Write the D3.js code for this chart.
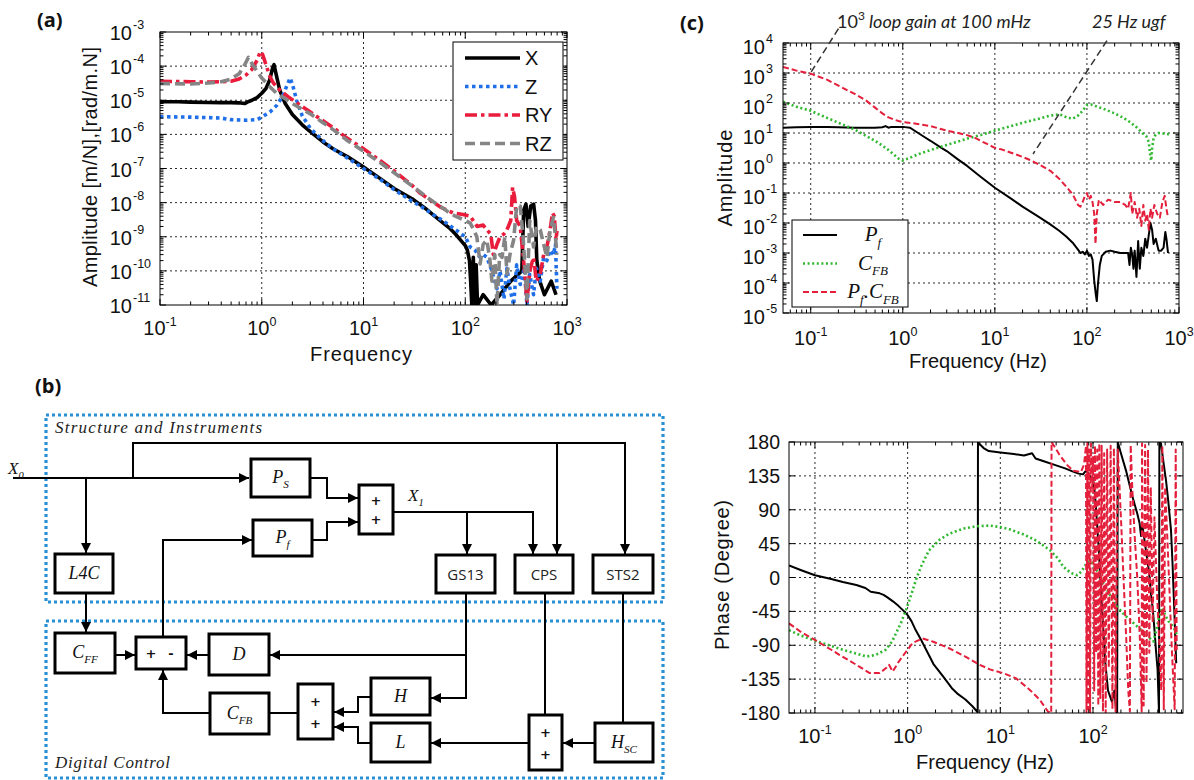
<!DOCTYPE html>
<html><head><meta charset="utf-8">
<script src="https://cdn.jsdelivr.net/npm/d3@7"></script>
<style>body{margin:0;background:#fff}svg{display:block;font-family:"Liberation Sans",Arial,sans-serif}</style>
</head><body><svg width="1194" height="780"></svg>
<script>
// ---------------- DATA ----------------
// Panel (a): amplitude [m/N],[rad/m.N] vs frequency
const aNames = ["X","Z","RY","RZ"];
const aX = [[0.1,9e-6],[0.15,9e-6],[0.2,8.8e-6],[0.3,8.6e-6],[0.4,8.5e-6],[0.5,8.5e-6],[0.6,8.4e-6],[0.68,8e-6],[0.72,8.8e-6],[0.8,1e-5],[0.9,1.2e-5],[1,1.6e-5],[1.1,2.2e-5],[1.2,4e-5],[1.28,9e-5],[1.32,1.1e-4],[1.38,6e-5],[1.5,2e-5],[1.7,8e-6],[2,3.8e-6],[2.5,1.9e-6],[3,1.2e-6],[4,6e-7],[5,3.8e-7],[7,2.2e-7],[10,1.1e-7],[15,4.8e-8],[20,2.6e-8],[30,1.3e-8],[40,7e-9],[50,4e-9],[60,2.6e-9],[70,1.8e-9],[80,1.2e-9],[90,8e-10],[100,5.5e-10],[105,4e-10],[110,2e-10],[113,5e-11],[116,1e-11],[120,2.5e-10],[124,1e-11],[128,1.5e-10],[132,1e-11],[150,2e-11],[180,1e-11],[220,2e-11],[280,5e-11],[360,1e-10],[375,6e-9],[395,9e-9],[415,2e-9],[440,8e-9],[470,9e-9],[490,3e-9],[505,2e-10],[540,5e-11],[600,2e-11],[700,5e-11],[780,2e-11]];
const aZ = [[0.1,3.3e-6],[0.2,3.2e-6],[0.3,3.1e-6],[0.4,3e-6],[0.5,2.7e-6],[0.7,2.6e-6],[0.9,2.7e-6],[1,3.2e-6],[1.2,4.5e-6],[1.4,7e-6],[1.6,1.3e-5],[1.75,2.5e-5],[1.9,4.5e-5],[2,3e-5],[2.2,1e-5],[2.5,3.5e-6],[3,1.5e-6],[4,6.5e-7],[5,3.8e-7],[7,2e-7],[10,1e-7],[15,4.5e-8],[20,2.4e-8],[30,1.1e-8],[36,8e-9],[50,4.2e-9],[60,3e-9],[76,1.8e-9],[100,1e-9],[112,5e-10],[125,4e-10],[140,2.5e-10],[150,3e-10],[163,2.5e-10],[183,1e-10],[205,3e-11],[220,1e-10],[240,1.5e-11],[257,1.2e-10],[275,3e-11],[299,1e-11],[320,1.5e-10],[347,4e-11],[380,1.2e-10],[404,1e-11],[430,8e-11],[469,2e-11],[500,1.2e-10],[546,5e-11],[590,2.5e-10],[635,2e-10],[680,4e-10],[737,3e-10],[770,6e-10],[796,3e-11]];
const aRY = [[0.1,3.6e-5],[0.2,3.5e-5],[0.3,3.4e-5],[0.4,3.5e-5],[0.5,3.6e-5],[0.6,4.2e-5],[0.7,5.5e-5],[0.8,8e-5],[0.9,1.5e-4],[0.97,2.7e-4],[1.02,2.2e-4],[1.1,1.1e-4],[1.2,5e-5],[1.3,3.2e-5],[1.5,2e-5],[1.8,1.3e-5],[2.2,8.5e-6],[3,4.5e-6],[4,2.5e-6],[5,1.6e-6],[7,7.5e-7],[10,3.8e-7],[15,1.6e-7],[20,8.5e-8],[30,3.2e-8],[36,1.9e-8],[45,1.2e-8],[57,7.4e-9],[76,5e-9],[95,4.5e-9],[112,4e-9],[131,2e-9],[150,2.2e-9],[163,1.6e-9],[178,1.2e-9],[189,3e-10],[205,6e-10],[220,1e-9],[240,1.2e-9],[257,1.6e-9],[280,3e-9],[292,2.8e-8],[305,1.5e-8],[320,3e-9],[347,2e-9],[370,3e-10],[390,5e-11],[404,1.3e-11],[430,1e-10],[469,2.5e-10],[500,5e-11],[546,8e-11],[590,3e-10],[635,5e-10],[680,1.5e-9],[720,5e-9],[750,4e-9],[780,8e-10],[796,1.5e-9]];
const aRZ = [[0.1,3.1e-5],[0.2,3e-5],[0.3,3.2e-5],[0.4,3.5e-5],[0.5,4.2e-5],[0.6,6e-5],[0.68,1.1e-4],[0.74,1.8e-4],[0.8,1.2e-4],[0.9,7e-5],[1,4.5e-5],[1.2,2.5e-5],[1.4,1.6e-5],[1.7,1.1e-5],[2,8e-6],[3,4e-6],[4,2.2e-6],[5,1.4e-6],[7,6.5e-7],[10,3.2e-7],[15,1.4e-7],[20,7.5e-8],[30,3.1e-8],[40,1.6e-8],[50,1e-8],[60,7e-9],[70,5e-9],[80,4e-9],[100,3e-9],[112,2.5e-9],[121,1.6e-9],[130,1e-9],[140,1.6e-10],[150,6e-10],[163,8e-10],[175,2e-10],[183,5e-11],[195,3e-10],[205,1e-11],[218,3e-10],[230,2.5e-10],[245,1e-9],[257,8e-11],[275,3e-10],[299,8e-10],[320,8e-9],[347,8e-9],[370,1e-9],[404,1.5e-11],[430,3e-9],[469,5e-10],[500,2e-9],[546,1.6e-9],[590,6e-10],[635,2.5e-10],[680,1.5e-9],[737,3.7e-9],[770,1e-9],[796,3e-10]];
const aXTicks = [0.1,1,10,100,1000];
const aYTicks = [1e-11,1e-10,1e-9,1e-8,1e-7,1e-6,1e-5,1e-4,1e-3];

// Panel (c) amplitude
const cNames = ["Pf","CFB","PfCFB"];
const cPf = [[0.05,15],[0.07,15.5],[0.1,16],[0.15,16],[0.2,15.5],[0.3,15],[0.4,15],[0.5,15],[0.6,15.5],[0.65,17],[0.7,15],[0.75,16],[0.9,16],[1,16],[1.2,15],[1.4,11],[1.7,7.5],[2,5.5],[2.5,3.5],[3,2.5],[4,1.3],[5,0.8],[7,0.35],[10,0.15],[15,0.065],[20,0.035],[30,0.016],[40,0.009],[50,0.0055],[60,0.0035],[70,0.0022],[80,0.0013],[85,0.001],[90,0.0011],[95,0.0009],[100,0.0012],[105,0.0008],[110,0.0009],[115,0.0006],[120,0.00012],[125,0.00004],[128,0.000025],[132,0.0001],[138,0.0004],[145,0.0008],[160,0.0011],[180,0.0012],[200,0.0011],[230,0.001],[260,0.001],[280,0.001],[290,0.0004],[300,0.0015],[310,0.0009],[320,0.0003],[330,0.0012],[345,0.00016],[360,0.0025],[375,0.0003],[390,0.0015],[410,0.0008],[430,0.003],[450,0.0015],[470,0.004],[490,0.01],[510,0.006],[530,0.002],[560,0.003],[600,0.0012],[640,0.0012],[680,0.0015],[710,0.005],[730,0.003],[760,0.001]];
const cCFB = [[0.05,110],[0.07,75],[0.1,55],[0.15,32],[0.2,22],[0.3,13],[0.4,8],[0.5,5.5],[0.6,3.8],[0.7,2.7],[0.8,1.9],[0.9,1.4],[1,1.2],[1.2,1.5],[1.5,2],[2,2.7],[3,4],[4,5.2],[5,6.5],[7,8.5],[10,12],[15,17],[20,22],[30,30],[40,38],[50,42],[55,38],[60,33],[70,30],[80,38],[90,55],[100,85],[110,90],[130,75],[150,65],[200,45],[250,32],[300,22],[350,15],[400,10],[440,8],[470,5],[490,1.5],[500,1.2],[510,3],[530,7],[560,9],[600,10],[700,9.5],[800,9]];
const cPfCFB = [[0.05,1600],[0.07,1200],[0.1,950],[0.15,600],[0.2,380],[0.3,200],[0.4,120],[0.5,70],[0.6,45],[0.7,33],[0.8,28],[0.9,25],[1,23],[1.3,21],[1.6,19],[2,17],[2.5,14],[3,12],[4,10],[5,8.5],[6,7],[7,5.5],[8,4.5],[10,3.2],[12,2.8],[15,2.2],[20,1.6],[25,1.2],[30,0.9],[40,0.55],[50,0.3],[60,0.16],[70,0.09],[75,0.06],[80,0.04],[85,0.035],[90,0.05],[95,0.08],[100,0.1],[105,0.06],[110,0.08],[115,0.05],[120,0.02],[124,0.002],[128,0.02],[135,0.06],[150,0.04],[170,0.06],[200,0.05],[230,0.05],[260,0.04],[280,0.03],[300,0.1],[310,0.02],[330,0.05],[350,0.015],[370,0.03],[390,0.008],[410,0.04],[430,0.012],[450,0.02],[470,0.006],[490,0.03],[510,0.015],[540,0.04],[580,0.02],[620,0.015],[660,0.05],[700,0.08],[730,0.03],[760,0.015]];
const cXTicks = [0.1,1,10,100,1000];
const cYTicks = [1e-5,1e-4,1e-3,1e-2,1e-1,1,10,100,1000,1e4];
const cNotes = [{from:[0.2,3e4],to:[0.095,800]},{from:[165,1.2e4],to:[26,2]}];

// Panel (c) phase (degree)
const pPf = [[0.0525,16],[0.07,10],[0.1,3],[0.15,-2],[0.2,-6],[0.28,-10],[0.35,-14],[0.4,-19],[0.5,-21],[0.55,-23],[0.6,-26],[0.7,-32],[0.8,-38],[0.9,-44],[1,-50],[1.1,-58],[1.2,-68],[1.4,-83],[1.6,-97],[1.9,-115],[2.4,-131],[3,-147],[3.5,-155],[4.2,-162],[5,-171],[5.7,-179],[5.74,179],[6,177],[6.6,172],[7.5,168],[10,166],[14,164],[18,162],[22,165],[24,158],[30,154],[40,149],[50,145],[60,141],[70,138],[78,137],[84,142],[90,138],[95,130],[100,132],[105,110],[108,90],[115,40],[125,-40],[135,-110],[145,-150],[160,-165],[170,-150],[178,-178],[182,-180],[185,180],[200,165],[227,142],[267,107],[300,85],[318,72],[330,55],[340,70],[359,50],[389,19],[400,10],[424,-25],[440,-40],[460,-69],[480,-100],[497,-122],[515,-180],[520,180],[541,178],[580,150],[613,129],[650,100],[694,63],[720,20],[755,-47],[790,-114]];
const pCFB = [[0.0525,-70],[0.07,-77],[0.1,-84],[0.15,-91],[0.2,-96],[0.28,-101],[0.36,-105],[0.45,-103],[0.58,-96],[0.68,-85],[0.75,-74],[0.85,-60],[0.96,-43],[1.1,-22],[1.23,-3],[1.4,15],[1.7,36],[2.2,50],[2.8,58],[4,65],[5.5,68],[7.7,69],[10,67],[12.6,64],[18,57],[24.5,49],[34.6,36],[42,25],[48,14],[58,6],[67.6,3],[75,8],[86,20],[93,22],[100,18],[115,5],[130,-8],[150,-22],[180,-38],[220,-50],[260,-58],[300,-65],[350,-72],[400,-80],[450,-85],[480,-70],[520,-50],[560,-40],[600,-50],[650,-58],[700,-62],[750,-68],[800,-75]];
const pPfCFB = [[0.0525,-61],[0.07,-72],[0.1,-83],[0.15,-96],[0.185,-103],[0.28,-116],[0.39,-127],[0.5,-127],[0.59,-120],[0.63,-116],[0.69,-125],[0.8,-112],[0.88,-105],[1,-96],[1.13,-87],[1.45,-81],[1.86,-85],[2.8,-94],[4.2,-105],[6,-116],[7.7,-122],[10.7,-127],[14.8,-134],[20.7,-149],[26.5,-162],[32.6,-178],[35.4,-180],[35.7,180],[43,164],[52,150],[61,142],[74,140],[80,150],[84,175],[85,-180],[87,180],[89,-175],[91,170],[93,-180],[95,178],[98,120],[100,160],[103,-150],[105,175],[108,-100],[111,170],[114,-170],[117,178],[120,-160],[124,175],[128,-178],[132,165],[137,-180],[142,170],[148,-120],[155,175],[162,-175],[168,172],[175,-178],[185,170],[195,110],[205,50],[215,-10],[228,-80],[240,-150],[250,-178],[255,176],[265,120],[280,60],[300,0],[320,-80],[335,-178],[338,178],[352,-170],[365,176],[378,-140],[392,170],[405,-100],[420,120],[440,-60],[460,80],[490,-20],[520,-90],[545,-150],[560,175],[580,-175],[600,120],[630,60],[670,-20],[700,-80],[730,-130],[760,-175],[780,170],[800,-100]];
const pXTicks = [0.1,1,10,100];
const pYTicks = [-180,-135,-90,-45,0,45,90,135,180];

// ---------------- DRAWING ----------------
const svg = d3.select("svg");
const GRID = "#2a2a2a";
const SERIF = "'Liberation Serif','DejaVu Serif',serif";

function minors(lo, hi){
  const out=[];
  for(let e=Math.floor(Math.log10(lo)); e<=Math.ceil(Math.log10(hi)); e++)
    for(let k=2;k<=9;k++){const v=k*Math.pow(10,e); if(v>lo*1.0001 && v<hi*0.9999) out.push(v);}
  return out;
}

function back(p){
  const [L,R]=p.xs.range(), [B,T]=p.ys.range();
  const g=svg.append("g").attr("stroke",GRID).attr("stroke-width",1).attr("stroke-dasharray","2,3");
  g.selectAll(null).data(p.xT.filter(v=>p.xs(v)>L+2&&p.xs(v)<R-2)).join("line")
   .attr("x1",d=>p.xs(d)).attr("x2",d=>p.xs(d)).attr("y1",T).attr("y2",B);
  g.selectAll(null).data(p.yT.filter(v=>p.ys(v)>T+2&&p.ys(v)<B-2)).join("line")
   .attr("y1",d=>p.ys(d)).attr("y2",d=>p.ys(d)).attr("x1",L).attr("x2",R);
  svg.append("clipPath").attr("id",p.id).append("rect").attr("x",L).attr("y",T).attr("width",R-L).attr("height",B-T);
  return svg.append("g").attr("clip-path",`url(#${p.id})`);
}

function front(p){
  const [L,R]=p.xs.range(), [B,T]=p.ys.range();
  const g=svg.append("g").attr("stroke","#000").attr("stroke-width",1);
  const xt=p.xT.map(v=>({v,l:6})).concat((p.xm||[]).map(v=>({v,l:3.5})));
  g.selectAll(null).data(xt).join("line").attr("x1",d=>p.xs(d.v)).attr("x2",d=>p.xs(d.v)).attr("y1",B).attr("y2",d=>B-d.l);
  g.selectAll(null).data(xt).join("line").attr("x1",d=>p.xs(d.v)).attr("x2",d=>p.xs(d.v)).attr("y1",T).attr("y2",d=>T+d.l);
  const yt=p.yT.map(v=>({v,l:6})).concat((p.ym||[]).map(v=>({v,l:3.5})));
  g.selectAll(null).data(yt).join("line").attr("y1",d=>p.ys(d.v)).attr("y2",d=>p.ys(d.v)).attr("x1",L).attr("x2",d=>L+d.l);
  g.selectAll(null).data(yt).join("line").attr("y1",d=>p.ys(d.v)).attr("y2",d=>p.ys(d.v)).attr("x1",R).attr("x2",d=>R-d.l);
  g.append("rect").attr("x",L).attr("y",T).attr("width",R-L).attr("height",B-T).attr("fill","none");
}

function xPowLabels(p, base){
  p.xT.forEach(v=>{
    const e=Math.round(Math.log10(v));
    const t=svg.append("text").attr("x",p.xs(v)).attr("y",base).attr("text-anchor","middle").attr("font-size",20).attr("fill","#111");
    t.append("tspan").text("10");
    t.append("tspan").attr("dy",-9).attr("font-size",12.5).text(e);
  });
}
function yPowLabels(p, xr, d1, d2){
  p.yT.forEach(v=>{
    const e=Math.round(Math.log10(v)), y=p.ys(v);
    svg.append("text").attr("x",xr).attr("y",y+d1).attr("text-anchor","end").attr("font-size",20).attr("fill","#111").text("10");
    svg.append("text").attr("x",xr+1).attr("y",y+d2).attr("font-size",12.5).attr("fill","#111").text(e);
  });
}

const line=(xs,ys)=>d3.line().x(d=>xs(d[0])).y(d=>ys(d[1]));

// ---- Panel (a)
const pa={id:"ca", xs:d3.scaleLog().domain([0.1,1000]).range([160,567]), ys:d3.scaleLog().domain([1e-11,1e-3]).range([305,32]), xT:aXTicks, yT:aYTicks};
pa.xm=minors(0.1,1000); pa.ym=minors(1e-11,1e-3);
const aStyles={X:{c:"#000",d:null},Z:{c:"#1f6fe8",d:"3.5,3.5"},RY:{c:"#ea1c3c",d:"12,4,3.5,4"},RZ:{c:"#858585",d:"10,5"}};
const aSeries={X:aX,Z:aZ,RY:aRY,RZ:aRZ};
const ga=back(pa);
aNames.forEach(n=>{
  ga.append("path").attr("d",line(pa.xs,pa.ys)(aSeries[n])).attr("fill","none").attr("stroke",aStyles[n].c)
    .attr("stroke-width",3.6).attr("stroke-dasharray",aStyles[n].d).attr("stroke-linejoin","round");
});
front(pa);
xPowLabels(pa,335);
yPowLabels(pa,132,8,-3);
svg.append("text").attr("x",361).attr("y",361).attr("text-anchor","middle").attr("font-size",20).attr("textLength",102).attr("fill","#111").text("Frequency");
svg.append("text").attr("transform","translate(97,167) rotate(-90)").attr("text-anchor","middle").attr("font-size",20).attr("textLength",240).attr("fill","#111").text("Amplitude [m/N],[rad/m.N]");
// legend (a)
const lg=svg.append("g");
lg.append("rect").attr("x",453).attr("y",42).attr("width",110).attr("height",118).attr("fill","#fff").attr("stroke","#000");
aNames.forEach((n,i)=>{
  const y=58+i*28.5;
  lg.append("line").attr("x1",465).attr("x2",520).attr("y1",y).attr("y2",y).attr("stroke",aStyles[n].c).attr("stroke-width",3.6).attr("stroke-dasharray",aStyles[n].d);
  lg.append("text").attr("x",525).attr("y",y+7).attr("font-size",20).attr("fill","#111").text(n);
});

// ---- Panel (c) amplitude
const pc={id:"cc", xs:d3.scaleLog().domain([0.05,1000]).range([783,1179]), ys:d3.scaleLog().domain([1e-5,1e4]).range([313,43]), xT:cXTicks, yT:cYTicks};
pc.xm=minors(0.05,1000); pc.ym=minors(1e-5,1e4);
const cStyles={Pf:{c:"#000",d:null,w:2},CFB:{c:"#2fb82f",d:"2,2.6",w:2.6},PfCFB:{c:"#e41f3b",d:"6,3",w:2}};
const cSeries={Pf:cPf,CFB:cCFB,PfCFB:cPfCFB};
const gc=back(pc);
cNames.forEach(n=>{
  gc.append("path").attr("d",line(pc.xs,pc.ys)(cSeries[n])).attr("fill","none").attr("stroke",cStyles[n].c)
    .attr("stroke-width",cStyles[n].w).attr("stroke-dasharray",cStyles[n].d).attr("stroke-linejoin","round");
});
front(pc);
xPowLabels(pc,345);
yPowLabels(pc,765,11,0);
svg.append("text").attr("x",978).attr("y",368).attr("text-anchor","middle").attr("font-size",20).attr("fill","#111").text("Frequency (Hz)");
svg.append("text").attr("transform","translate(732,178) rotate(-90)").attr("text-anchor","middle").attr("font-size",20).attr("textLength",97).attr("fill","#111").text("Amplitude");
cNotes.forEach(a=>{
  svg.append("line").attr("x1",pc.xs(a.from[0])).attr("y1",pc.ys(a.from[1])).attr("x2",pc.xs(a.to[0])).attr("y2",pc.ys(a.to[1]))
    .attr("stroke","#333").attr("stroke-width",1.5).attr("stroke-dasharray","7,4");
});
const n1=svg.append("text").attr("x",837).attr("y",28).attr("font-family","Lato, 'Open Sans', sans-serif").attr("font-size",18).attr("fill","#222");
n1.append("tspan").text("10"); n1.append("tspan").attr("dy",-8).attr("font-size",12).text("3");
n1.append("tspan").attr("dy",8).attr("font-style","italic").text(" loop gain at 100 mHz");
svg.append("text").attr("x",1092).attr("y",28).attr("font-family","Lato, 'Open Sans', sans-serif").attr("font-style","italic").attr("font-size",18).attr("fill","#222").text("25 Hz ugf");

// legend (c)
function mathText(sel,x,y,parts,size,anchor){
  const t=sel.append("text").attr("x",x).attr("y",y).attr("text-anchor",anchor||"start")
    .attr("font-family",SERIF).attr("font-style","italic").attr("font-size",size).attr("fill","#111");
  let sub=false;
  parts.forEach(([s,k])=>{
    const ts=t.append("tspan").text(s);
    if(k==="s"&&!sub){ts.attr("dy",size*0.28).attr("font-size",size*0.62); sub=true;}
    else if(k==="s"){ts.attr("font-size",size*0.62);}
    else if(sub){ts.attr("dy",-size*0.28); sub=false;}
  });
  return t;
}
const lc=svg.append("g");
lc.append("rect").attr("x",792).attr("y",220).attr("width",116).attr("height",87).attr("fill","#fff").attr("stroke","#000");
const cLeg=[["Pf",[["P","n"],["f","s"]]],["CFB",[["C","n"],["FB","s"]]],["PfCFB",[["P","n"],["f","s"],[".","n"],["C","n"],["FB","s"]]]];
cLeg.forEach(([n,parts],i)=>{
  const y=235+i*28.5;
  lc.append("line").attr("x1",803).attr("x2",837).attr("y1",y).attr("y2",y).attr("stroke",cStyles[n].c).attr("stroke-width",cStyles[n].w).attr("stroke-dasharray",cStyles[n].d);
  mathText(lc,873,y+6,parts,21,"middle");
});

// ---- Panel (c) phase
const pp={id:"cp", xs:d3.scaleLog().domain([0.0525,935]).range([789,1183]), ys:d3.scaleLinear().domain([-180,180]).range([713,442]), xT:pXTicks, yT:pYTicks};
pp.xm=minors(0.0525,935);
const pSeries={Pf:pPf,CFB:pCFB,PfCFB:pPfCFB};
const gp=back(pp);
cNames.forEach(n=>{
  gp.append("path").attr("d",line(pp.xs,pp.ys)(pSeries[n])).attr("fill","none").attr("stroke",cStyles[n].c)
    .attr("stroke-width",cStyles[n].w).attr("stroke-dasharray",cStyles[n].d).attr("stroke-linejoin","round");
});
front(pp);
xPowLabels(pp,743);
pYTicks.forEach(v=>svg.append("text").attr("x",780).attr("y",pp.ys(v)+7).attr("text-anchor","end").attr("font-size",19.5).attr("fill","#111").text(v));
svg.append("text").attr("x",985).attr("y",769).attr("text-anchor","middle").attr("font-size",20).attr("fill","#111").text("Frequency (Hz)");
svg.append("text").attr("transform","translate(729,575) rotate(-90)").attr("text-anchor","middle").attr("font-size",20).attr("textLength",150).attr("fill","#111").text("Phase (Degree)");

// panel letters
[["(a)",37,27],["(b)",35,393],["(c)",680,30]].forEach(([s,x,y])=>svg.append("text").attr("x",x).attr("y",y).attr("font-family","'Open Sans',sans-serif").attr("font-weight","bold").attr("font-size",20).attr("fill","#111").text(s));

// ---------------- (b) Block diagram ----------------
const gb=svg.append("g");
const defs=svg.append("defs");
defs.append("marker").attr("id","arr").attr("markerUnits","userSpaceOnUse").attr("markerWidth",12).attr("markerHeight",10)
  .attr("refX",10).attr("refY",5).attr("orient","auto").append("path").attr("d","M0,0L10,5L0,10Z").attr("fill","#000");
const regions=[{x:46,y:415,w:617,h:187,label:"Structure and Instruments",ly:433,len:207},{x:46,y:621,w:617,h:157,label:"Digital Control",ly:768,len:115}];
regions.forEach(r=>{
  gb.append("rect").attr("x",r.x).attr("y",r.y).attr("width",r.w).attr("height",r.h).attr("fill","none")
    .attr("stroke","#2990d4").attr("stroke-width",3.2).attr("stroke-dasharray","3,3");
  gb.append("text").attr("x",55).attr("y",r.ly).attr("font-family",SERIF).attr("font-style","italic")
    .attr("font-size",17).attr("textLength",r.len).attr("fill","#222").text(r.label);
});
const wires=[
 [[[13,478],[249,478]],1],[[[133,478],[133,443],[625,443],[625,554]],1],[[[557,443],[557,554]],1],[[[86,478],[86,553]],1],
 [[[310,478],[327,478],[327,498],[358,498]],1],[[[312,540],[327,540],[327,522],[358,522]],1],
 [[[393,512],[533,512],[533,554]],1],[[[467,512],[467,554]],1],
 [[[86,593],[86,632]],1],[[[115,655],[135,655]],1],[[[209,655],[187,655]],1],
 [[[466,593],[466,655],[270,655]],1],[[[466,655],[466,698],[431,698]],1],
 [[[163,637],[163,540],[252,540]],1],[[[210,713],[163,713],[163,670]],1],[[[298,713],[269,713]],0],
 [[[371,697],[358,697],[358,712],[334,712]],1],[[[371,743],[358,743],[358,727],[334,727]],1],
 [[[545,593],[545,715]],0],[[[529,743],[431,743]],1],[[[623,593],[623,723]],0],[[[595,743],[563,743]],1]
];
wires.forEach(([pts,a])=>{
  const p=gb.append("path").attr("d",d3.line()(pts)).attr("fill","none").attr("stroke","#000").attr("stroke-width",2);
  if(a) p.attr("marker-end","url(#arr)");
});
const boxes=[
 {x:251,y:459,w:59,h:38,t:"P",s:"S"},{x:253,y:520,w:59,h:36,t:"P",s:"f"},{x:55,y:554,w:58,h:39,t:"L4C"},
 {x:436,y:555,w:59,h:38,t:"GS13",sans:1},{x:515,y:555,w:58,h:38,t:"CPS",sans:1},{x:593,y:555,w:60,h:38,t:"STS2",sans:1},
 {x:55,y:633,w:60,h:40,t:"C",s:"FF"},{x:209,y:634,w:60,h:41,t:"D"},{x:210,y:693,w:59,h:41,t:"C",s:"FB"},
 {x:371,y:678,w:59,h:37,t:"H"},{x:371,y:723,w:59,h:39,t:"L"},{x:595,y:723,w:58,h:39,t:"H",s:"SC"}
];
boxes.forEach(b=>{
  gb.append("rect").attr("x",b.x).attr("y",b.y).attr("width",b.w).attr("height",b.h).attr("fill","#fff").attr("stroke","#000").attr("stroke-width",3);
  if(b.sans) gb.append("text").attr("x",b.x+b.w/2).attr("y",b.y+b.h/2+6).attr("text-anchor","middle").attr("font-family","'Open Sans',sans-serif").attr("font-size",15).attr("fill","#222").text(b.t);
  else mathText(gb,b.x+b.w/2,b.y+b.h/2+5,b.s?[[b.t,"n"],[b.s,"s"]]:[[b.t,"n"]],18,"middle");
});
const sums=[{x:359,y:485,w:34,h:49,sg:["+","+"],v:1},{x:136,y:637,w:50,h:32,sg:["+","-"],v:0},{x:298,y:684,w:35,h:55,sg:["+","+"],v:1},{x:529,y:715,w:33,h:55,sg:["+","+"],v:1}];
sums.forEach(s=>{
  gb.append("rect").attr("x",s.x).attr("y",s.y).attr("width",s.w).attr("height",s.h).attr("fill","#fff").attr("stroke","#000").attr("stroke-width",3);
  s.sg.forEach((c,i)=>{
    const cx=s.v?s.x+s.w/2:s.x+s.w*(0.3+0.4*i), cy=s.v?s.y+s.h*(0.3+0.4*i):s.y+s.h/2;
    gb.append("text").attr("x",cx).attr("y",cy+5).attr("text-anchor","middle").attr("font-family","'DejaVu Sans',sans-serif").attr("font-weight","bold").attr("font-size",13).attr("fill","#111").text(c);
  });
});
mathText(gb,8,474,[["X","n"],["0","s"]],17,"start");
mathText(gb,408,501,[["X","n"],["1","s"]],17,"start");
</script></body></html>
